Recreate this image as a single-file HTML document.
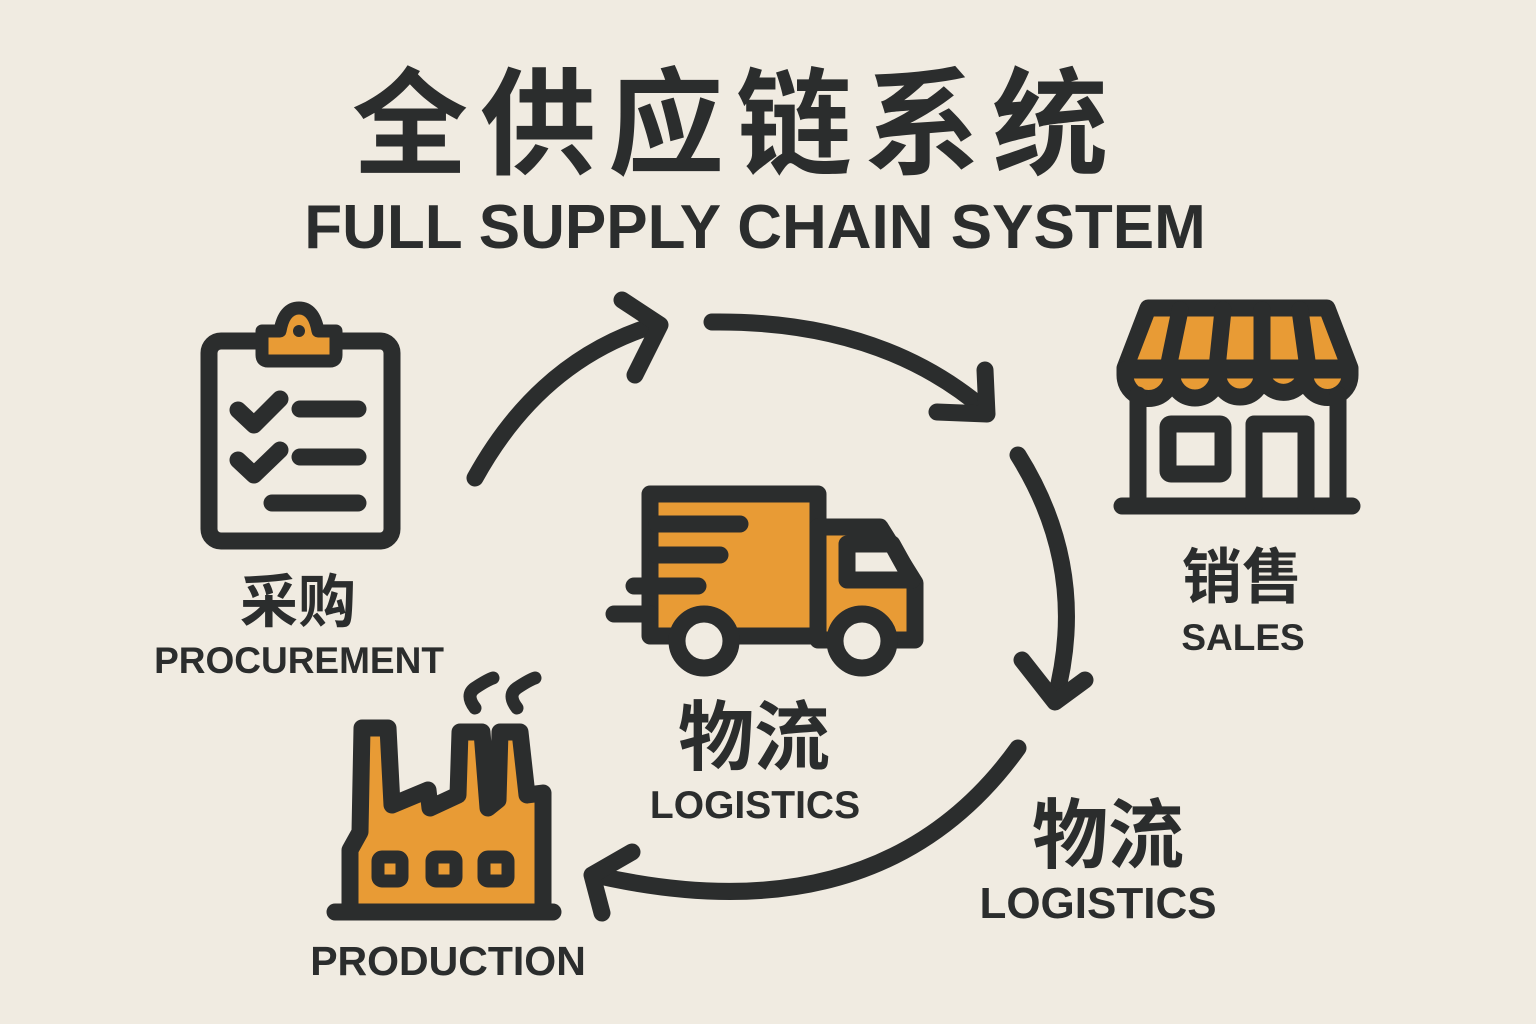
<!DOCTYPE html>
<html><head><meta charset="utf-8"><style>
html,body{margin:0;padding:0;background:#f0ebe1;}
svg{display:block}
text{font-family:"Liberation Sans","Noto Sans CJK SC",sans-serif;font-weight:bold;fill:#2b2d2d}
</style></head><body>
<svg width="1536" height="1024" viewBox="0 0 1536 1024" xmlns="http://www.w3.org/2000/svg">
<rect width="1536" height="1024" fill="#f0ebe1"/>
<g fill="#2b2d2d">
<text x="736" y="165" font-size="116" text-anchor="middle" font-family="Noto Sans CJK SC" letter-spacing="12">全供应链系统</text>
<text x="755" y="248" font-size="62" text-anchor="middle">FULL SUPPLY CHAIN SYSTEM</text>
<text x="298" y="622" font-size="58" text-anchor="middle" font-family="Noto Sans CJK SC">采购</text>
<text x="299" y="673" font-size="37" text-anchor="middle">PROCUREMENT</text>
<text x="1242" y="598" font-size="60" text-anchor="middle" font-family="Noto Sans CJK SC">销售</text>
<text x="1243" y="650" font-size="37" text-anchor="middle">SALES</text>
<text x="754" y="764" font-size="76" text-anchor="middle" font-family="Noto Sans CJK SC">物流</text>
<text x="755" y="818" font-size="39" text-anchor="middle">LOGISTICS</text>
<text x="1108" y="862" font-size="76" text-anchor="middle" font-family="Noto Sans CJK SC">物流</text>
<text x="1098" y="918" font-size="44" text-anchor="middle">LOGISTICS</text>
<text x="448" y="975" font-size="41" text-anchor="middle">PRODUCTION</text>
</g>
<g fill="none" stroke="#2b2d2d" stroke-width="17" stroke-linecap="round" stroke-linejoin="round">
<path d="M475 478 Q540 360 655 325"/>
<path d="M622 300 L660 325 L635 375"/>
<path d="M712 322 Q880 320 985 410"/>
<path d="M937 412 L987 414 L985 370"/>
<path d="M1018 455 Q1090 570 1055 700"/>
<path d="M1022 660 L1055 702 L1085 680"/>
<path d="M1018 748 Q880 940 595 875"/>
<path d="M632 852 L592 875 L602 913"/>
<rect x="209" y="341" width="183" height="200" rx="12"/>
<path d="M238 410 L254 425 L280 399"/>
<path d="M238 460 L254 475 L280 450"/>
<path d="M300 409 L358 409 M300 457 L358 457 M272 503 L358 503"/>
<path d="M1148 308 L1327 308 L1350 368 L1125 368 Z" fill="#e89b35"/>
<path d="M1180 310 L1168 368 M1223 310 L1217 368 M1262 310 L1262 368 M1300 310 L1308 368"/>
<path d="M1125 370 L1350 370 L1350 375 A22 22 0 0 1 1305 375 A22 22 0 0 1 1262 375 A22 22 0 0 1 1218 375 A22 22 0 0 1 1172 375 A22 22 0 0 1 1125 375 Z" fill="#e89b35"/>
<path d="M1138 395 L1138 505 M1338 395 L1338 505 M1122 506 L1352 506"/>
<rect x="1168" y="424" width="55" height="50" rx="3"/>
<path d="M1254 506 L1254 424 L1306 424 L1306 506"/>
<path d="M650 494 L818 494 L818 636 L650 636 Z" fill="#e89b35"/>
<path d="M818 527 L880 527 L915 583 L915 640 L818 640 Z" fill="#e89b35"/>
<path d="M847 544 L892 544 L912 580 L847 580 Z" fill="#f0ebe1"/>
<path d="M657 524 L740 524 M657 555 L720 555 M634 586 L698 586 M614 614 L650 614"/>
<circle cx="704" cy="641" r="27" fill="#f0ebe1"/>
<circle cx="862" cy="641" r="27" fill="#f0ebe1"/>
<path d="M350 912 L350 850 L360 832 L362 728 L388 728 L392 805 L428 790 L430 808 L458 795 L460 732 L482 732 L488 808 L498 800 L500 732 L520 732 L527 795 L543 793 L543 912 Z" fill="#e89b35"/>
<path d="M335 912 L553 912"/>
<path d="M475 708 Q465 695 475 688 Q487 680 493 678 M517 708 Q507 695 517 688 Q529 680 535 678" stroke-width="13"/>
<rect x="378" y="857" width="24" height="24" rx="4" stroke-width="13"/>
<rect x="432" y="857" width="24" height="24" rx="4" stroke-width="13"/>
<rect x="484" y="857" width="24" height="24" rx="4" stroke-width="13"/>
</g>
<path d="M262 331 L262 355 Q262 361 268 361 L330 361 Q336 361 336 355 L336 331 L318 331 Q314 308 299 308 Q284 308 280 331 Z" fill="#e89b35" stroke="#2b2d2d" stroke-width="13" stroke-linejoin="round"/>
<circle cx="299" cy="331" r="6" fill="#2b2d2d"/>
</svg>
</body></html>
